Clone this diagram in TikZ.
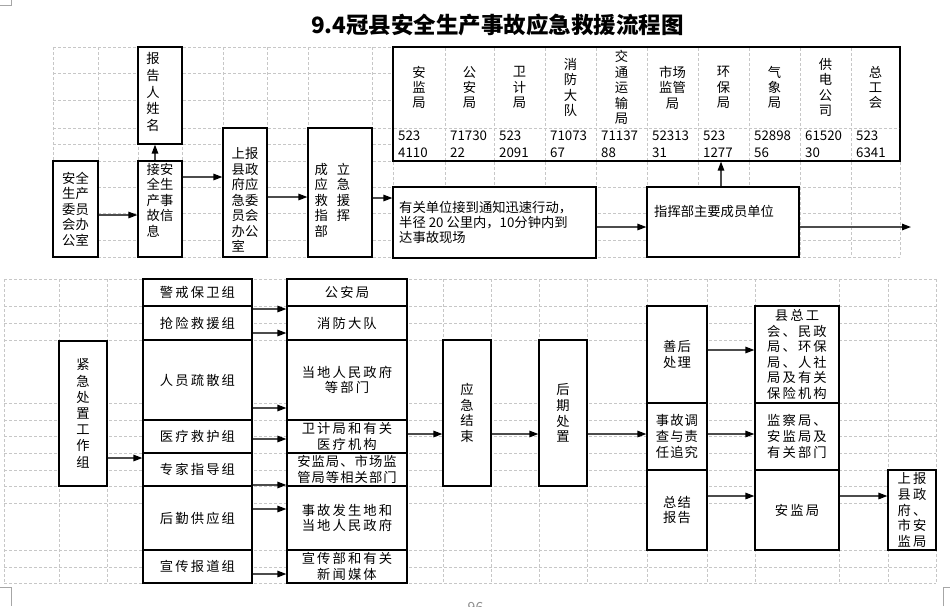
\documentclass[tikz,border=0pt]{standalone}
\usepackage{fontspec}
\setmainfont{Noto Sans CJK SC}
\newfontfamily\cjk{Noto Sans CJK SC}
\newfontfamily\cjkmid[LetterSpace=8]{Noto Sans CJK SC}
\newfontfamily\cjkwide[LetterSpace=16]{Noto Sans CJK SC}
\usetikzlibrary{arrows.meta,positioning}

\begin{document}
\begin{tikzpicture}[x=1pt,y=-1pt,>={Triangle[length=9pt,width=6.5pt,color=black]}]
  \tikzstyle{grid}=[draw=black!22,line width=0.7pt,dash pattern=on 3pt off 2pt]
  \tikzstyle{cell}=[draw,line width=1.2pt,fill=white,inner sep=0pt,align=center]
  \tikzstyle{txt}=[font=\cjk\fontsize{13.3}{15.5}\selectfont,align=center,inner sep=0pt]
  \tikzstyle{vtxt}=[font=\cjk\fontsize{13.3}{15.6}\selectfont]
  \tikzstyle{wtxt}=[font=\cjkwide\fontsize{13.3}{15.6}\selectfont]
  \tikzstyle{mtxt}=[font=\cjkmid\fontsize{13.3}{15.6}\selectfont]
  \tikzstyle{conn}=[->,draw=black!70,line width=1.4pt]

  \useasboundingbox (0,0) rectangle (950,606);

  % sheet grid
  \foreach \x in {53,98,138,182,223,267,308,372,393,445,494,545,596,647,698,749,800,851,900}
    \draw[grid] (\x,47) -- (\x,257);
  \foreach \y in {47,73,100,128,144,161,187,213,240,257}
    \draw[grid] (53,\y) -- (900,\y);
  \foreach \x in {4,59,107,143,252,287,407,443,491,539,587,647,707,755,839,888,936}
    \draw[grid] (\x,279) -- (\x,583);
  \foreach \y in {279,306,323,340,403,420,436,453,470,486,503,550,567,583}
    \draw[grid] (4,\y) -- (936,\y);

  % page marks
  \draw[black!35,line width=0.8pt] (0,5) -- (11.5,5) -- (11.5,0);
  \draw[black!35,line width=0.8pt] (0,587) -- (11.5,587) -- (11.5,606);
  \draw[black!35,line width=0.8pt] (943,606) -- (943,587) -- (950,587);
  \node[font=\cjk\fontsize{14}{16}\selectfont,text=black!45,anchor=north,inner sep=0pt] (pgno) at (475.5,602) {96};

  \node[font=\cjk\bfseries\fontsize{22.5}{26}\selectfont] (title) at (497.5,25) {9.4冠县安全生产事故应急救援流程图};

  % upper part
  \node[cell,txt,minimum width=45pt,minimum height=96pt] (ofc) at (75.5,209) {安全\\生产\\委员\\会办\\公室};
  \node[cell,minimum width=44pt,minimum height=97pt] (rptname) at (160,95.5) {};
  \node[txt,font=\cjk\fontsize{13.3}{16.7}\selectfont] (rptname-t) at (153,92) {报\\告\\人\\姓\\名};
  \node[cell,minimum width=44pt,minimum height=96pt] (rcv) at (160,209) {};
  \node[txt,align=left,anchor=north] (rcv-t) at (160,163) {接安\\全生\\产事\\故信\\息};
  \node[cell,minimum width=44pt,minimum height=129pt] (gov) at (245,192.5) {};
  \node[txt,align=left] (gov-t) at (245,200) {上报\\县政\\府应\\急委\\员会\\办公\\室};
  \node[cell,minimum width=64pt,minimum height=129pt] (cmdh) at (340,192.5) {};
  \node[txt,align=left] (cmdh-t) at (332.5,200) {成\hspace{9pt}立\\应\hspace{9pt}急\\救\hspace{9pt}援\\指\hspace{9pt}挥\\部};

  \node[cell,minimum width=507pt,minimum height=114pt] (tbl) at (646.5,104) {};
  \foreach \x in {445,494,545,596,647,698,749,800,851}
    \draw[grid] (\x,48) -- (\x,160);
  \draw[grid] (394,128) -- (899,128);
  \foreach \xa/\xb/\hd/\nm [count=\i] in {393/445/{安\\监\\局}/{523\\4110},
      445/494/{公\\安\\局}/{71730\\22}, 494/545/{卫\\计\\局}/{523\\2091},
      545/596/{消\\防\\大\\队}/{71073\\67}, 596/647/{交\\通\\运\\输\\局}/{71137\\88},
      647/698/{市场\\监管\\局}/{52313\\31}, 698/749/{环\\保\\局}/{523\\1277},
      749/800/{气\\象\\局}/{52898\\56}, 800/851/{供\\电\\公\\司}/{61520\\30},
      851/900/{总\\工\\会}/{523\\6341}}
  {
    \node[txt,font=\cjk\fontsize{13.3}{15.4}\selectfont] (h\i) at ({(\xa+\xb)/2},87.5) {\hd};
    \node[txt,align=left,anchor=west,font=\cjk\fontsize{13.3}{17}\selectfont] (n\i) at ({\xa+5},144) {\nm};
  }

  \node[cell,minimum width=203pt,minimum height=71pt] (act) at (494.5,222.5) {};
  \node[txt,align=left,anchor=west,font=\cjk\fontsize{13.3}{15}\selectfont] (act-t) at (399,222)
    {有关单位接到通知迅速行动，\\半径 20 公里内，10分钟内到\\达事故现场};
  \node[cell,minimum width=152pt,minimum height=70pt] (cmd) at (723,222) {};
  \node[txt,anchor=west] (cmd-t) at (654,211) {指挥部主要成员单位};
  \coordinate (out) at (911,227);

  \draw[conn] ([yshift=-6pt]ofc.east) -- ([yshift=-6pt]rcv.west);
  \draw[conn] ([xshift=-5pt]rcv.north) -- ([xshift=-5pt]rptname.south);
  \draw[conn] ([yshift=32pt]rcv.east) -- ([yshift=15.5pt]gov.west);
  \draw[conn] ([yshift=-4.5pt]gov.east) -- ([yshift=-4.5pt]cmdh.west);
  \draw[conn] ([yshift=-5.5pt]cmdh.east) -- ([yshift=24.5pt]act.west);
  \draw[conn] ([yshift=-4.5pt]act.east) -- ([yshift=-5pt]cmd.west);
  \draw[conn] ([yshift=-5pt]cmd.east) -- (out);
  \draw[conn] ([xshift=-2pt]cmd.north) -- ([xshift=74.5pt]tbl.south);

  % lower part
  \node[cell,vtxt,minimum width=48pt,minimum height=145pt,font=\cjk\fontsize{13.3}{16.2}\selectfont] (emg) at (83,413.5) {紧\\急\\处\\置\\工\\作\\组};
  \foreach \ya/\yb/\lt/\rt/\st [count=\i] in {
      279/306/警戒保卫组/公安局/wtxt,
      306/340/抢险救援组/消防大队/wtxt,
      340/420/人员疏散组/{当地人民政府\\等部门}/wtxt,
      420/453/医疗救护组/{卫计局和有关\\医疗机构}/wtxt,
      453/486/专家指导组/{安监局、市场监\\管局等相关部门}/mtxt,
      486/550/后勤供应组/{事故发生地和\\当地人民政府}/wtxt,
      550/583/宣传报道组/{宣传部和有关\\新闻媒体}/wtxt}
  {
    \node[cell,wtxt,minimum width=109pt,minimum height=\yb pt-\ya pt] (g\i) at (197.5,{(\ya+\yb)/2}) {\lt};
    \node[cell,\st,minimum width=120pt,minimum height=\yb pt-\ya pt] (d\i) at (347,{(\ya+\yb)/2}) {\rt};
  }
  \node[cell,vtxt,minimum width=48pt,minimum height=146pt] (fin) at (467,413) {应\\急\\结\\束};
  \node[cell,vtxt,minimum width=48pt,minimum height=146pt] (post) at (563,413) {后\\期\\处\\置};
  \node[cell,mtxt,minimum width=60pt,minimum height=97pt] (s1) at (677,354.5) {善后\\处理};
  \node[cell,mtxt,minimum width=60pt,minimum height=67pt] (s2) at (677,436.5) {事故调\\查与责\\任追究};
  \node[cell,mtxt,minimum width=60pt,minimum height=80pt] (s3) at (677,510) {总结\\报告};
  \node[cell,wtxt,minimum width=84pt,minimum height=97pt] (r1) at (797,354.5) {县总工\\会、民政\\局、环保\\局、人社\\局及有关\\保险机构};
  \node[cell,wtxt,minimum width=84pt,minimum height=67pt] (r2) at (797,436.5) {监察局、\\安监局及\\有关部门};
  \node[cell,wtxt,minimum width=84pt,minimum height=80pt] (r3) at (797,510) {安监局};
  \node[cell,wtxt,align=left,minimum width=48pt,minimum height=80pt] (upcity) at (912,510) {上报\\县政\\府、\\市安\\监局};

  \draw[conn] ([yshift=-44.5pt]emg.east) -- ([yshift=11.5pt]g5.west);
  \draw[conn] ([yshift=14pt]g2.east) -- ([yshift=14pt]d2.west);
  \draw[conn] ([yshift=-10pt]g2.east) -- ([yshift=-10pt]d2.west);
  \draw[conn] ([yshift=-28pt]g3.east) -- ([yshift=-28pt]d3.west);
  \draw[conn] ([yshift=-2.5pt]g4.east) -- ([yshift=-2.5pt]d4.west);
  \draw[conn] ([yshift=-15.5pt]g5.east) -- ([yshift=-15.5pt]d5.west);
  \draw[conn] ([yshift=9pt]g6.east) -- ([yshift=9pt]d6.west);
  \draw[conn] ([yshift=-7.5pt]g7.east) -- ([yshift=-7.5pt]d7.west);
  \draw[conn] ([yshift=2.5pt]d4.east) -- ([yshift=-21pt]fin.west);
  \draw[conn] ([yshift=-21pt]fin.east) -- ([yshift=-21pt]post.west);
  \draw[conn] ([yshift=-21pt]post.east) -- ([yshift=2.5pt]s2.west);
  \draw[conn] ([yshift=4.5pt]s1.east) -- ([yshift=4.5pt]r1.west);
  \draw[conn] ([yshift=2.5pt]s2.east) -- ([yshift=2.5pt]r2.west);
  \draw[conn] ([yshift=14pt]s3.east) -- ([yshift=14pt]r3.west);
  \draw[conn] ([yshift=14pt]r3.east) -- ([yshift=14pt]upcity.west);
\end{tikzpicture}
\end{document}
